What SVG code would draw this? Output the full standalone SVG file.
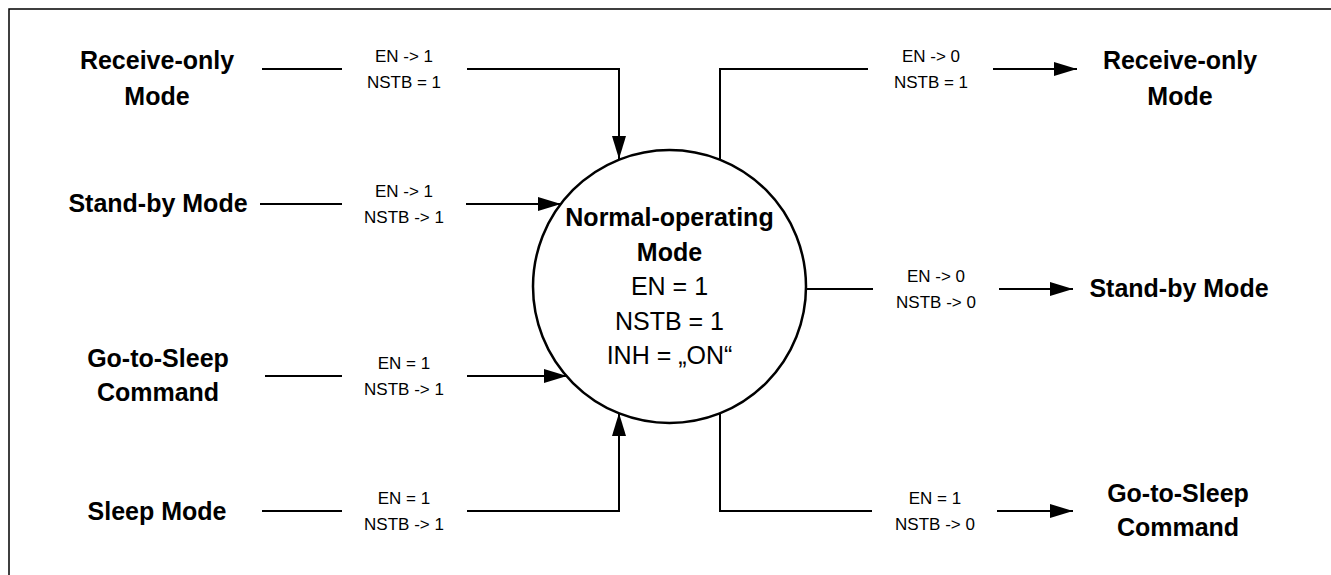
<svg xmlns="http://www.w3.org/2000/svg" width="1331" height="575" viewBox="0 0 1331 575">
<style>
.bg{fill:#fff}
.frame{fill:none;stroke:#000;stroke-width:1.5}
.ln{fill:none;stroke:#000;stroke-width:2}
.arr{marker-end:url(#ah)}
.node{font-family:"Liberation Sans",Arial,sans-serif;font-weight:bold;font-size:25px;fill:#000;text-anchor:middle}
.cond{font-family:"Liberation Sans",Arial,sans-serif;font-size:17px;fill:#000;text-anchor:middle}
.state{font-family:"Liberation Sans",Arial,sans-serif;font-size:25px;fill:#000;text-anchor:middle}
.circ{fill:#fff;stroke:#000;stroke-width:2.5}
</style>
<defs>
<marker id="ah" viewBox="0 0 23 14" refX="23" refY="7" markerWidth="23" markerHeight="14" markerUnits="userSpaceOnUse" orient="auto">
<path d="M0,0 L23,7 L0,14 z" fill="#000"/>
</marker>
</defs>
<rect class="bg" x="0" y="0" width="1331" height="575"/>
<path class="frame" d="M9,580 L9,9 L1340,9"/>

<g id="connectors">
<!-- left row 1: Receive-only -> Normal -->
<line class="ln" x1="262" y1="69" x2="342" y2="69"/>
<path class="ln arr" d="M467,69 L619,69 L619,159"/>
<text class="cond" x="404" y="62">EN -&gt; 1</text>
<text class="cond" x="404" y="88">NSTB = 1</text>
<!-- left row 2: Stand-by -> Normal -->
<line class="ln" x1="260" y1="204" x2="342" y2="204"/>
<path class="ln arr" d="M466,204 L561,204"/>
<text class="cond" x="404" y="197">EN -&gt; 1</text>
<text class="cond" x="404" y="223">NSTB -&gt; 1</text>
<!-- left row 3: Go-to-Sleep -> Normal -->
<line class="ln" x1="265" y1="376" x2="342" y2="376"/>
<path class="ln arr" d="M467,376 L567,376"/>
<text class="cond" x="404" y="369">EN = 1</text>
<text class="cond" x="404" y="395">NSTB -&gt; 1</text>
<!-- left row 4: Sleep -> Normal -->
<line class="ln" x1="262" y1="511" x2="342" y2="511"/>
<path class="ln arr" d="M467,511 L619,511 L619,413"/>
<text class="cond" x="404" y="504">EN = 1</text>
<text class="cond" x="404" y="530">NSTB -&gt; 1</text>
<!-- right row 1: Normal -> Receive-only -->
<path class="ln" d="M720,159 L720,69 L868,69"/>
<path class="ln arr" d="M993,69 L1077,69"/>
<text class="cond" x="931" y="62">EN -&gt; 0</text>
<text class="cond" x="931" y="88">NSTB = 1</text>
<!-- right row 2: Normal -> Stand-by -->
<line class="ln" x1="806" y1="289" x2="873" y2="289"/>
<path class="ln arr" d="M999,289 L1073,289"/>
<text class="cond" x="936" y="282">EN -&gt; 0</text>
<text class="cond" x="936" y="308">NSTB -&gt; 0</text>
<!-- right row 3: Normal -> Go-to-Sleep -->
<path class="ln" d="M720,413 L720,511 L872,511"/>
<path class="ln arr" d="M997,511 L1073,511"/>
<text class="cond" x="935" y="504">EN = 1</text>
<text class="cond" x="935" y="530">NSTB -&gt; 0</text>
</g>

<g id="normal">
<circle class="circ" cx="669.5" cy="286.5" r="136.5"/>
<text class="node" x="669.5" y="226">Normal-operating</text>
<text class="node" x="669.5" y="261">Mode</text>
<text class="state" x="669.5" y="295">EN = 1</text>
<text class="state" x="669.5" y="330">NSTB = 1</text>
<text class="state" x="669.5" y="364">INH = „ON“</text>
</g>

<g id="in-receive-only">
<text class="node" x="157" y="69">Receive-only</text>
<text class="node" x="157" y="105">Mode</text>
</g>
<g id="in-standby">
<text class="node" x="158" y="212">Stand-by Mode</text>
</g>
<g id="in-gotosleep">
<text class="node" x="158" y="367">Go-to-Sleep</text>
<text class="node" x="158" y="401">Command</text>
</g>
<g id="in-sleep">
<text class="node" x="157" y="520">Sleep Mode</text>
</g>
<g id="out-receive-only">
<text class="node" x="1180" y="69">Receive-only</text>
<text class="node" x="1180" y="105">Mode</text>
</g>
<g id="out-standby">
<text class="node" x="1179" y="297">Stand-by Mode</text>
</g>
<g id="out-gotosleep">
<text class="node" x="1178" y="502">Go-to-Sleep</text>
<text class="node" x="1178" y="536">Command</text>
</g>
</svg>
